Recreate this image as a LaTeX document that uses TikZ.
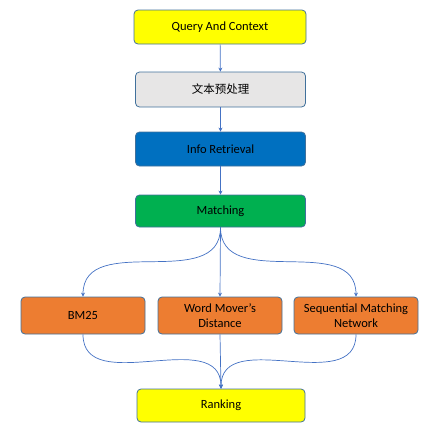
\documentclass[tikz,border=0pt]{standalone}
\usepackage{fontspec}
\setmainfont{Carlito}
\newfontfamily\cjk{Noto Sans CJK SC}
\usetikzlibrary{arrows.meta}
\definecolor{bordc}{HTML}{41719C}
\definecolor{arrc}{HTML}{4472C4}
\definecolor{yel}{HTML}{FFFF00}
\definecolor{gry}{HTML}{E7E6E6}
\definecolor{blu}{HTML}{0070C0}
\definecolor{grn}{HTML}{00B050}
\definecolor{org}{HTML}{ED7D31}
\tikzset{
  box/.style={draw=bordc, line width=0.8pt, rounded corners=4pt, minimum width=170pt, minimum height=34pt, align=center, font=\fontsize{12.5}{14.5}\selectfont, text=black, inner sep=1pt},
  sbox/.style={box, minimum width=124pt, minimum height=37pt},
  arr/.style={draw=arrc, line width=0.7pt, -{Stealth[length=4pt,width=4pt]}}
}
\begin{document}
\begin{tikzpicture}[x=1pt,y=1pt]
\useasboundingbox (0,0) rectangle (437,-426);
\node[box, fill=yel, minimum width=172pt] (q) at (220,-27) {Query And Context};
\node[box, fill=gry, minimum height=35pt] (p) at (220.5,-89.5) {\cjk\fontsize{11.5}{14}\selectfont 文本预处理};
\node[box, fill=blu] (ir) at (220.5,-149) {Info Retrieval};
\node[box, fill=grn, minimum height=32pt] (m) at (220.5,-211) {Matching};
\node[sbox, fill=org] (b) at (83,-315.5) {BM25};
\node[sbox, fill=org] (w) at (220,-315.5) {Word Mover’s\\Distance};
\node[sbox, fill=org] (s) at (356,-315.5) {Sequential Matching\\Network};
\node[box, fill=yel, minimum width=168pt, minimum height=33pt] (r) at (221,-405.5) {Ranking};
\draw[arr] (q) -- (p);
\draw[arr] (p) -- (ir);
\draw[arr] (ir) -- (m);
\draw[arr] (m.south) to[out=-90,in=90,looseness=1.1] (b.north);
\draw[arr] (m.south) -- (w.north);
\draw[arr] (m.south) to[out=-90,in=90,looseness=1.1] (s.north);
\draw[arr] (b.south) to[out=-90,in=90,looseness=1.1] (r.north);
\draw[arr] (w.south) -- (r.north);
\draw[arr] (s.south) to[out=-90,in=90,looseness=1.1] (r.north);
\end{tikzpicture}
\end{document}
